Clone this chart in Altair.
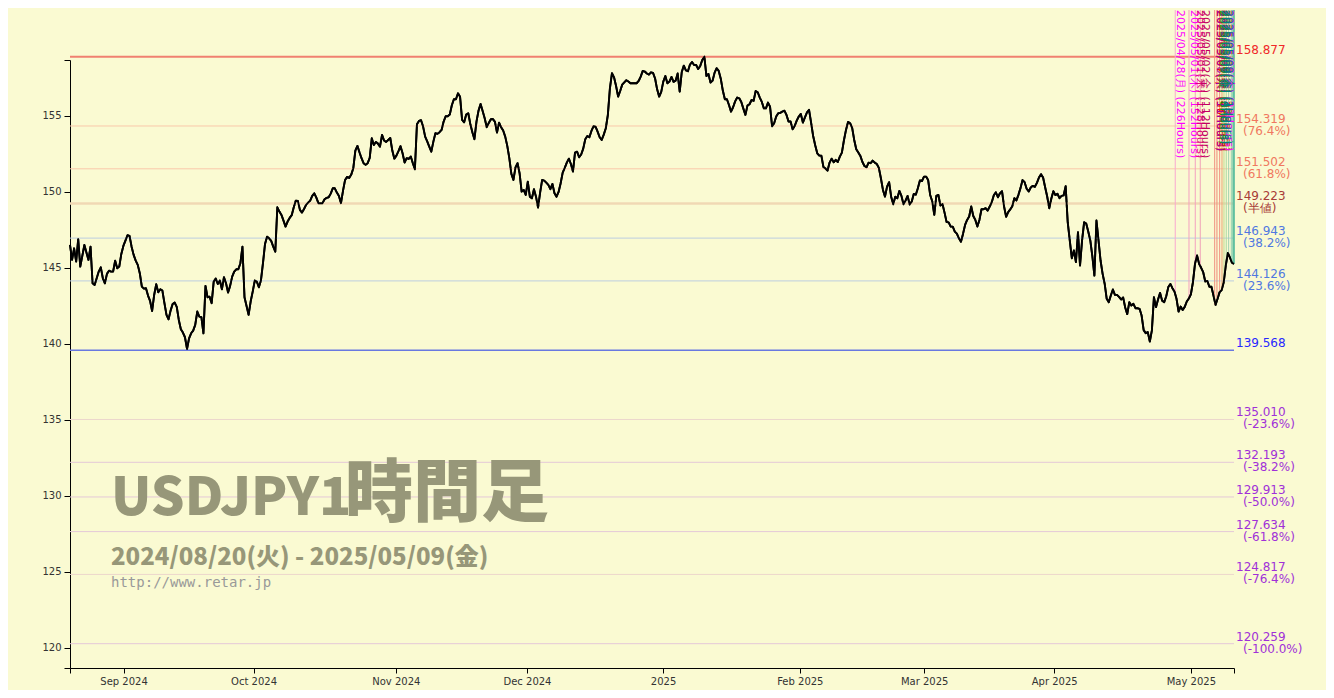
import altair as alt
import pandas as pd
import numpy as np

# USDJPY hourly close, sampled every 1/3 trading day (8h), 2024/08/20 - 2025/05/09
seg1 = [146.49,145.51,146.27,145.40,146.87,145.07,145.77,146.49,145.99,145.51,
146.38,143.97,143.86,144.30,144.74,145.02,144.30,143.97,144.59,144.80,
144.74,144.74,145.46,144.96,145.07,145.90,146.43,146.78,147.13,147.09,
146.38,145.84,145.46,145.18,144.63,143.75,143.62,143.64,143.16,142.81,
142.15,143.20,143.91,143.38,143.58,143.49,142.66,141.89,141.60,142.17,
142.61,142.70,142.42,141.56,140.95,140.73,140.42,139.65,140.35,140.68,
140.86,141.23,142.11,141.78,141.74,140.68,143.80,143.05,143.09,142.66,
144.08,144.28,143.93,144.15,143.58,144.37,143.97,143.36,143.80,144.41,
144.74,144.89,144.89,145.29,146.38,143.05,142.48,141.89,142.77,143.42,
144.15,144.08,143.71,144.15,145.29,146.56,147.04,146.93,146.76,146.38,
146.05,148.97,148.69,148.47,148.09,147.70,148.03,148.27,148.45,148.97,
149.41,149.39,148.80]
seg2 = [148.62,148.86,149.13,149.28,149.41,149.72,149.89,149.61,149.24,149.24,
149.24,149.50,149.59,149.63,149.87,150.22,150.22,149.94,149.72,149.24,
150.07,150.77,150.97,150.90,151.12,151.54,152.70,153.01,152.59,152.20,
151.87,151.76,151.87,152.22,153.51,153.07,153.27,153.16,152.96,153.73,
153.36,153.27,153.40,153.53,152.70,152.17,152.37,152.66,152.99,152.52,
151.91,152.20,152.15,152.31,151.87,151.47,154.43,154.65,154.70,154.28,
153.62,153.31,152.96,152.63,153.29,153.84,153.80,153.91,154.06,154.61,
154.96,154.96,155.07,155.68,156.08,156.08,156.47,156.25,154.72,154.56,
155.07,155.16,154.45,153.91,153.45,154.61,155.33,155.77,155.31,154.83,
154.24,154.52,154.76,154.78,154.59,153.88,154.54,154.24,154.02,153.62,
153.01,152.20,151.17,150.77,151.60,151.87,151.21,150.00,150.11,149.78,
150.66,149.67,149.56,150.16,149.67]
seg3 = [148.95,149.94,150.77,150.73,150.59,150.44,150.16,150.51,149.89,149.67,
149.98,150.55,151.25,151.56,151.91,152.17,151.82,151.32,152.57,152.63,
152.26,152.44,152.83,153.45,153.66,153.58,153.99,154.30,154.28,153.95,
153.58,153.40,153.75,154.17,155.05,156.80,157.79,157.52,156.95,156.25,
156.62,157.04,157.19,157.33,157.24,157.13,157.13,157.13,157.13,157.28,
157.57,157.94,157.90,157.77,157.70,157.85,157.81,157.44,156.73,156.25,
156.56,157.24,157.61,157.13,157.24,157.55,157.22,157.30,157.77,156.58,
157.87,158.29,157.98,157.92,158.36,158.53,158.33,158.33,158.07,158.27,
158.66,158.88,157.61,157.74,157.17,157.30,157.83,158.12,157.94,157.43,
156.65,156.08,156.08,155.70,155.26,155.55,155.94,156.19,156.14,155.90,
155.46,155.05,155.66,155.75,156.03,155.97,156.62,156.54,156.19,155.90,
155.48,155.48,155.86,155.59]
seg4 = [154.30,154.50,154.94,155.16,155.18,155.27,155.33,155.05,154.61,154.61,
154.10,154.32,154.67,154.94,155.11,154.54,154.89,155.22,155.38,154.54,
153.66,153.05,152.52,152.37,152.37,151.62,151.52,151.38,151.91,152.17,
151.93,152.09,151.95,152.30,152.57,153.38,154.06,154.59,154.50,154.19,
153.40,152.79,152.57,152.35,151.95,151.69,151.60,151.91,151.87,152.04,
151.91,151.82,151.56,150.88,150.11,149.67,150.33,150.62,149.67,149.17,
149.67,149.56,150.05,149.72,149.17,149.41,149.72,149.15,149.34,149.85,
149.80,150.22,150.73,150.70,150.99,150.99,150.77,149.78,149.37,148.47,
149.72,149.78,149.08,149.19,148.62,148.00,147.98,147.70,147.70,147.37,
147.24,146.93,146.71,147.22,147.81,148.14,148.36,149.02,148.40,148.14,
147.70,148.14,148.84,148.84,148.91,148.75,149.02,149.30,149.76,149.96,
149.63,149.89,150.03,149.02]
seg5 = [148.34,148.65,148.83,149.04,149.57,149.42,149.79,150.23,150.76,150.62,
150.19,150.01,150.27,150.38,150.32,150.58,150.93,151.15,150.93,150.29,
149.68,148.91,149.53,150.03,149.77,149.86,149.57,149.72,149.75,150.36,
147.99,146.79,145.62,146.13,145.36,147.33,145.14,146.79,147.99,147.90,
147.38,146.79,145.75,144.48,148.10,146.79,145.47,144.59,143.94,142.95,
142.73,143.17,143.56,143.21,143.21,143.08,142.90,143.04,142.38,141.94,
142.73,142.51,142.62,142.33,142.33,142.29,141.85,140.89,140.69,140.76,
140.14,140.87,143.06,142.40,142.90,143.34,142.82,142.73,143.12,143.72,
143.93,143.65,143.43,142.95,142.11,142.44,142.22,142.42,142.77,142.97,
143.25,144.04,145.25,145.80,145.25,144.99,144.70,144.09,144.13,143.74,
143.74,143.17,142.55,142.95,143.39,143.52,144.04,145.14,145.97,145.67,
145.32,145.25]

# month ticks (trading-day index from 2024/08/20)
tick_days = [8.7, 29.8, 52.9, 74.2, 96.3, 118.5, 138.7, 159.8, 182.0]
tick_labels = ["Sep 2024", "Oct 2024", "Nov 2024", "Dec 2024", "2025",
               "Feb 2025", "Mar 2025", "Apr 2025", "May 2025"]
total_days = 189

# fibonacci levels
levels = [158.877, 154.319, 151.502, 149.223, 146.943, 144.126, 139.568,
          135.010, 132.193, 129.913, 127.634, 124.817, 120.259]
level_pct = ["", "(76.4%)", "(61.8%)", "(半値)", "(38.2%)", "(23.6%)", "",
             "(-23.6%)", "(-38.2%)", "(-50.0%)", "(-61.8%)", "(-76.4%)", "(-100.0%)"]
level_line_colors = ["#f08070", "#f9c8aa", "#f9c8aa", "#f0d8b4", "#bccde0", "#bccde0", "#6878e0",
                     "#ecd6cc", "#e4c8d8", "#e4c8d8", "#e4c8d8", "#ecd6cc", "#e4c8d8"]
level_line_widths = [2, 1, 1, 2.5, 1, 1, 1.5, 1, 1, 1, 1, 1, 1]
level_text_colors = ["#f02828", "#f07860", "#f07860", "#a83c38", "#5078e0", "#5078e0", "#2828ff",
                     "#a030d8", "#a030d8", "#a030d8", "#a030d8", "#a030d8", "#a030d8"]

# time-cycle vertical markers
vline_days = [179.46, 181.69, 182.71, 183.52, 185.86, 186.23, 186.67, 187.05,
              187.37, 187.74, 188.13, 188.56, 188.94]
vline_labels = ["2025/04/28(月) (226Hours)", "2025/05/01(木) (152Hours)",
                "2025/05/01(木) (128Hours)", "2025/05/02(金) (112Hours)",
                "2025/05/07(水) (56Hours)", "2025/05/07(水) (47Hours)",
                "2025/05/08(木) (37Hours)", "2025/05/08(木) (28Hours)",
                "2025/05/08(木) (20Hours)", "2025/05/08(木) (11Hours)",
                "2025/05/09(金) (8Hours)", "2025/05/09(金) (4Hours)",
                "2025/05/09(金) (1Hours)"]
vline_side = ["right"] * 9 + ["left"] * 4
vline_colors = ["#f8a8d0", "#f4a0c0", "#f4a0c0", "#f0a0b8", "#f09080", "#f08878", "#f09080",
                "#e8a070", "#c0d890", "#a8d8a0", "#a0d0b0", "#90d0b0", "#60c0a0"]
vline_widths = [1, 1, 1, 1, 1, 1, 1, 1, 1, 1, 1, 1, 2.5]
vline_text_colors = ["#ff00ff", "#ff00ff", "#e00080", "#c00060", "#ff0000", "#e02020", "#c00000",
                     "#d04000", "#ff00ff", "#a000a0", "#00a000", "#008080", "#008080"]

title_main = "USDJPY1"
title_cjk = "時間足"
subtitle = "2024/08/20(火) - 2025/05/09(金)"
url = "http://www.retar.jp"

prices = seg1 + seg2 + seg3 + seg4 + seg5
df = pd.DataFrame({"day": np.arange(len(prices)) / 3.0, "price": prices})

lv = pd.DataFrame({"price": levels, "pct": level_pct, "lc": level_line_colors,
                   "lw": level_line_widths, "tc": level_text_colors,
                   "val": [f"{v:.3f}" for v in levels]})

vend = [prices[min(int(round(d * 3)), len(prices) - 1)] for d in vline_days]
vl = pd.DataFrame({"day": vline_days, "price": vend, "label": vline_labels,
                   "lc": vline_colors, "lw": vline_widths, "tc": vline_text_colors,
                   "side": vline_side})

xs = alt.Scale(domain=[0, total_days], nice=False, zero=False)
ys = alt.Scale(domain=[118.66, 158.66], nice=False, zero=False)

expr = ""
for d, lab in zip(tick_days, tick_labels):
    expr += f"abs(datum.value - {d}) < 0.01 ? '{lab}' : "
expr += "''"

x_axis = alt.Axis(values=[0] + tick_days + [total_days], labelExpr=expr, title=None,
                  grid=False, domainColor="#000", tickColor="#000", tickSize=5,
                  labelFont="DejaVu Sans", labelFontSize=10, labelColor="#333",
                  labelOverlap=False, labelFlush=False, labelPadding=3)
y_axis = alt.Axis(values=[118.66, 120, 125, 130, 135, 140, 145, 150, 155, 158.66],
                  labelExpr="(datum.value % 5 == 0) ? format(datum.value, 'd') : ''",
                  title=None, grid=False, domainColor="#000", tickColor="#000", tickSize=6,
                  labelFont="DejaVu Sans", labelFontSize=10, labelColor="#333",
                  labelOverlap=False, labelFlush=False, labelPadding=3)

price_line = alt.Chart(df).mark_line(color="#000", strokeWidth=1.9, strokeJoin="round").encode(
    x=alt.X("day:Q", scale=xs, axis=x_axis),
    y=alt.Y("price:Q", scale=ys, axis=y_axis),
)

level_rules = alt.Chart(lv).mark_rule(clip=False).encode(
    y=alt.Y("price:Q", scale=ys),
    color=alt.Color("lc:N", scale=None),
    strokeWidth=alt.StrokeWidth("lw:Q", scale=None),
)

level_val = alt.Chart(lv).mark_text(align="left", baseline="alphabetic", dx=1, dy=-3,
                                    font="DejaVu Sans", fontSize=12).encode(
    x=alt.value(1165),
    y=alt.Y("price:Q", scale=ys),
    text="val:N",
    color=alt.Color("tc:N", scale=None),
)
level_pct_t = alt.Chart(lv).mark_text(align="left", baseline="alphabetic", dx=8, dy=9,
                                      font="DejaVu Sans", fontSize=12).encode(
    x=alt.value(1165),
    y=alt.Y("price:Q", scale=ys),
    text="pct:N",
    color=alt.Color("tc:N", scale=None),
)

vrules = alt.Chart(vl).mark_rule(clip=False).encode(
    x=alt.X("day:Q", scale=xs),
    y=alt.Y("price:Q", scale=ys),
    y2=alt.value(-50),
    color=alt.Color("lc:N", scale=None),
    strokeWidth=alt.StrokeWidth("lw:Q", scale=None),
)
vtexts_r = alt.Chart(vl).transform_filter("datum.side == 'right'").mark_text(
    angle=90, align="left", baseline="bottom", font="DejaVu Sans", fontSize=11).encode(
    x=alt.X("day:Q", scale=xs),
    y=alt.value(-50),
    text="label:N",
    color=alt.Color("tc:N", scale=None),
)
vtexts_l = alt.Chart(vl).transform_filter("datum.side == 'left'").mark_text(
    angle=90, align="left", baseline="top", font="DejaVu Sans", fontSize=11).encode(
    x=alt.X("day:Q", scale=xs),
    y=alt.value(-50),
    text="label:N",
    color=alt.Color("tc:N", scale=None),
)

tcol = "#979779"
t1 = alt.Chart(pd.DataFrame({"t": [title_main]})).mark_text(
    align="left", baseline="alphabetic", font="Noto Sans CJK JP", fontWeight=900,
    fontSize=53, color=tcol).encode(x=alt.value(41), y=alt.value(455), text="t:N")
t2 = alt.Chart(pd.DataFrame({"t": [title_cjk]})).mark_text(
    align="right", baseline="alphabetic", font="Noto Sans CJK JP", fontWeight=900,
    fontSize=68, color=tcol).encode(x=alt.value(479), y=alt.value(456), text="t:N")
t3 = alt.Chart(pd.DataFrame({"t": [subtitle]})).mark_text(
    align="left", baseline="alphabetic", font="Noto Sans CJK JP", fontWeight=900,
    fontSize=24, color=tcol).encode(x=alt.value(41), y=alt.value(505), text="t:N")
t4 = alt.Chart(pd.DataFrame({"t": [url]})).mark_text(
    align="left", baseline="alphabetic", font="DejaVu Sans Mono",
    fontSize=14, color="#999999").encode(x=alt.value(41), y=alt.value(527), text="t:N")

chart = alt.layer(price_line, level_rules, vrules, vtexts_r, vtexts_l, price_line,
                  level_val, level_pct_t, t1, t2, t3, t4).properties(
    width=1164, height=608,
    padding={"left": 62, "top": 52, "right": 92, "bottom": 22},
    autosize=alt.AutoSizeParams(type="none"),
    background="#fafad2",
).configure_view(strokeWidth=0)

chart.save("out.html", embed_options={"renderer": "svg", "actions": False})
